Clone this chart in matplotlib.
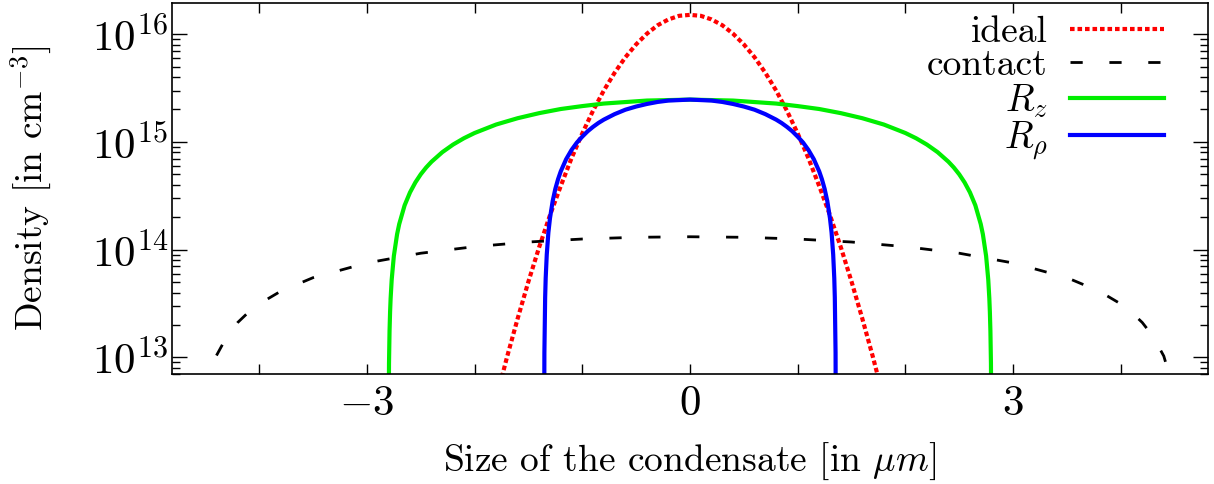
import matplotlib
matplotlib.use("Agg")
import matplotlib.pyplot as plt
from matplotlib.ticker import LogLocator, NullFormatter

plt.rcParams['font.family'] = 'serif'
plt.rcParams['font.serif'] = ['cmr10']
plt.rcParams['mathtext.fontset'] = 'cm'
plt.rcParams['axes.formatter.use_mathtext'] = True
plt.rcParams['axes.unicode_minus'] = False

# ideal gas profile
x_ideal = [-1.8, -1.7, -1.6, -1.5, -1.4, -1.3, -1.2, -1.1, -1.0, -0.9, -0.8, -0.7, -0.6,
           -0.5, -0.4, -0.3, -0.2, -0.1, 0.0, 0.1, 0.2, 0.3, 0.4, 0.5, 0.6, 0.7, 0.8,
           0.9, 1.0, 1.1, 1.2, 1.3, 1.4, 1.5, 1.6, 1.7, 1.8]
n_ideal = [4.1e12, 1.0e13, 2.3e13, 5.07e13, 1.06e14, 2.09e14, 3.9e14, 7.06e14, 1.2e15,
           1.95e15, 3.0e15, 4.38e15, 6.1e15, 8.04e15, 1.01e16, 1.21e16, 1.37e16, 1.48e16,
           1.51e16, 1.48e16, 1.37e16, 1.21e16, 1.01e16, 8.04e15, 6.1e15, 4.38e15, 3.0e15,
           1.95e15, 1.2e15, 7.06e14, 3.9e14, 2.09e14, 1.06e14, 5.07e13, 2.3e13, 1.0e13, 4.1e12]

# contact interaction
x_contact = [-4.5, -4.4, -4.3, -4.2, -4.1, -4.0, -3.8, -3.5, -3.0, -2.5, -2.0, -1.5, -1.0,
             -0.5, 0.0, 0.5, 1.0, 1.5, 2.0, 2.5, 3.0, 3.5, 3.8, 4.0, 4.1, 4.2, 4.3, 4.4, 4.5]
n_contact = [4.7e12, 1.03e13, 1.57e13, 2.11e13, 2.63e13, 3.14e13, 4.12e13, 5.5e13, 7.53e13,
             9.27e13, 1.067e14, 1.178e14, 1.256e14, 1.303e14, 1.318e14, 1.303e14, 1.256e14,
             1.178e14, 1.067e14, 9.27e13, 7.53e13, 5.5e13, 4.12e13, 3.14e13, 2.63e13,
             2.11e13, 1.57e13, 1.03e13, 4.7e12]

# R_z profile
x_rz = [-2.8, -2.795, -2.79, -2.785, -2.78, -2.77, -2.75, -2.72, -2.7, -2.65, -2.6, -2.55,
        -2.5, -2.45, -2.4, -2.3, -2.2, -2.1, -2.0, -1.8, -1.6, -1.4, -1.2, -1.0, -0.8,
        -0.4, 0.0, 0.4, 0.8, 1.0, 1.2, 1.4, 1.6, 1.8, 2.0, 2.1, 2.2, 2.3, 2.4, 2.45, 2.5,
        2.55, 2.6, 2.65, 2.7, 2.72, 2.75, 2.77, 2.78, 2.785, 2.79, 2.795, 2.8]
n_rz = [1e12, 8.8e12, 1.76e13, 2.64e13, 3.52e13, 5.27e13, 8.74e13, 1.39e14, 1.73e14,
        2.58e14, 3.4e14, 4.21e14, 5.01e14, 5.79e14, 6.55e14, 8.03e14, 9.45e14, 1.081e15,
        1.21e15, 1.45e15, 1.66e15, 1.85e15, 2.02e15, 2.15e15, 2.27e15, 2.42e15, 2.47e15,
        2.42e15, 2.27e15, 2.15e15, 2.02e15, 1.85e15, 1.66e15, 1.45e15, 1.21e15, 1.081e15,
        9.45e14, 8.03e14, 6.55e14, 5.79e14, 5.01e14, 4.21e14, 3.4e14, 2.58e14, 1.73e14,
        1.39e14, 8.74e13, 5.27e13, 3.52e13, 2.64e13, 1.76e13, 8.8e12, 1e12]

# R_rho profile
x_rrho = [-1.355, -1.352, -1.345, -1.34, -1.33, -1.315, -1.3, -1.275, -1.25, -1.225, -1.2,
          -1.15, -1.1, -1.05, -1.0, -0.95, -0.9, -0.85, -0.8, -0.7, -0.6, -0.5, -0.4, -0.3,
          -0.2, 0.0, 0.2, 0.3, 0.4, 0.5, 0.6, 0.7, 0.8, 0.85, 0.9, 0.95, 1.0, 1.05, 1.1,
          1.15, 1.2, 1.225, 1.25, 1.275, 1.3, 1.315, 1.33, 1.34, 1.345, 1.352, 1.355]
n_rrho = [1e12, 1.1e13, 3.6e13, 5.43e13, 9.0e13, 1.44e14, 1.96e14, 2.83e14, 3.68e14,
          4.51e14, 5.33e14, 6.91e14, 8.42e14, 9.87e14, 1.12e15, 1.256e15, 1.38e15, 1.5e15,
          1.61e15, 1.81e15, 1.99e15, 2.13e15, 2.25e15, 2.35e15, 2.42e15, 2.47e15, 2.42e15,
          2.35e15, 2.25e15, 2.13e15, 1.99e15, 1.81e15, 1.61e15, 1.5e15, 1.38e15, 1.256e15,
          1.12e15, 9.87e14, 8.42e14, 6.91e14, 5.33e14, 4.51e14, 3.68e14, 2.83e14, 1.96e14,
          1.44e14, 9.0e13, 5.43e13, 3.6e13, 1.1e13, 1e12]

fig = plt.figure(figsize=(12.14, 4.84), dpi=100)
ax = fig.add_axes([0.1417, 0.227, 0.8533, 0.767])

ax.plot(x_ideal, n_ideal, color='#ff0000', lw=3.0, dashes=(1.1, 0.7), label='ideal')
ax.plot(x_contact, n_contact, color='black', lw=2.0, dashes=(4.4, 9.6), label='contact')
ax.plot(x_rz, n_rz, color='#00ee00', lw=3.0, label=r'$R_z$')
ax.plot(x_rrho, n_rrho, color='#0000ff', lw=3.0, label=r'$R_\rho$')

ax.set_yscale('log')
ax.set_xlim(-4.81, 4.81)
ax.set_ylim(7.0e12, 1.95e16)

ax.set_xticks([-3, 0, 3])
ax.set_xticklabels([r'$-3$', r'$0$', r'$3$'])
ax.set_xticks([-4, -2, -1, 1, 2, 4], minor=True)
ax.yaxis.set_major_locator(LogLocator(base=10, numticks=10))
ax.yaxis.set_minor_locator(LogLocator(base=10, subs=range(2, 10), numticks=10))
ax.yaxis.set_minor_formatter(NullFormatter())

ax.tick_params(which='both', direction='in', top=True, right=True, labelsize=31, width=1.0)
ax.tick_params(axis='x', which='both', length=7, pad=8)
ax.tick_params(axis='y', which='major', length=11, pad=3)
ax.tick_params(axis='y', which='minor', length=6)
for s in ax.spines.values():
    s.set_linewidth(1.2)

ax.set_xlabel(r'Size of the condensate [in $\mu m$]', fontsize=27, labelpad=13)
ax.set_ylabel(r'Density [in cm$^{-3}$]', fontsize=27, labelpad=28)

ax.legend(loc='upper right', markerfirst=False, frameon=False, fontsize=27,
          handlelength=2.5, handletextpad=0.6, labelspacing=0.0,
          borderaxespad=0.0, bbox_to_anchor=(0.972, 1.006))

fig.savefig('out.png', dpi=100)
